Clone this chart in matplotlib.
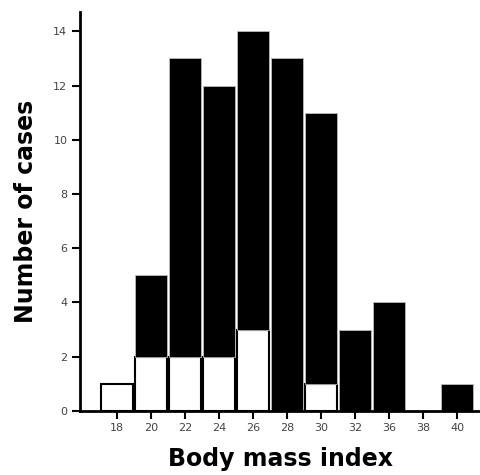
import numpy as np
import matplotlib
matplotlib.use("Agg")
import matplotlib.pyplot as plt

# body mass index classes (34 is not shown in the original)
bmi_labels = ["18", "20", "22", "24", "26", "28", "30", "32", "36", "38", "40"]
total_cases = [1, 5, 13, 12, 14, 13, 11, 3, 4, 0, 1]
white_cases = [1, 2, 2, 2, 3, 0, 1, 0, 0, 0, 0]

x = np.arange(len(bmi_labels))
white = np.array(white_cases)
black_part = np.array(total_cases) - white

fig = plt.figure(figsize=(4.81, 4.75), dpi=100)
ax = fig.add_axes([0.166, 0.135, 0.834, 0.84])

w = 0.93
hw = white > 0
hb = black_part > 0
ax.bar(x[hw], white[hw], width=w, color="white", edgecolor="black", linewidth=1.5, zorder=2)
ax.bar(x[hb], black_part[hb], bottom=white[hb], width=w, color="black",
       edgecolor="#bbbbbb", linewidth=0.6, zorder=2)

ax.set_xlim(-1.09, 10.7)
ax.set_ylim(0, 14.72)
ax.set_yticks(np.arange(0, 15, 2))
ax.set_xticks(x)
ax.set_xticklabels(bmi_labels)

for s in ["top", "right"]:
    ax.spines[s].set_visible(False)
for s in ["left", "bottom"]:
    ax.spines[s].set_linewidth(2)
    ax.spines[s].set_zorder(3)

ax.tick_params(axis="both", direction="out", length=6, width=1.5,
               labelsize=8, labelcolor="#444444", pad=3)

ax.set_xlabel("Body mass index", fontsize=17, fontweight="bold", labelpad=10)
ax.set_ylabel("Number of cases", fontsize=17, fontweight="bold", labelpad=11)

fig.savefig("out.png", dpi=100)
